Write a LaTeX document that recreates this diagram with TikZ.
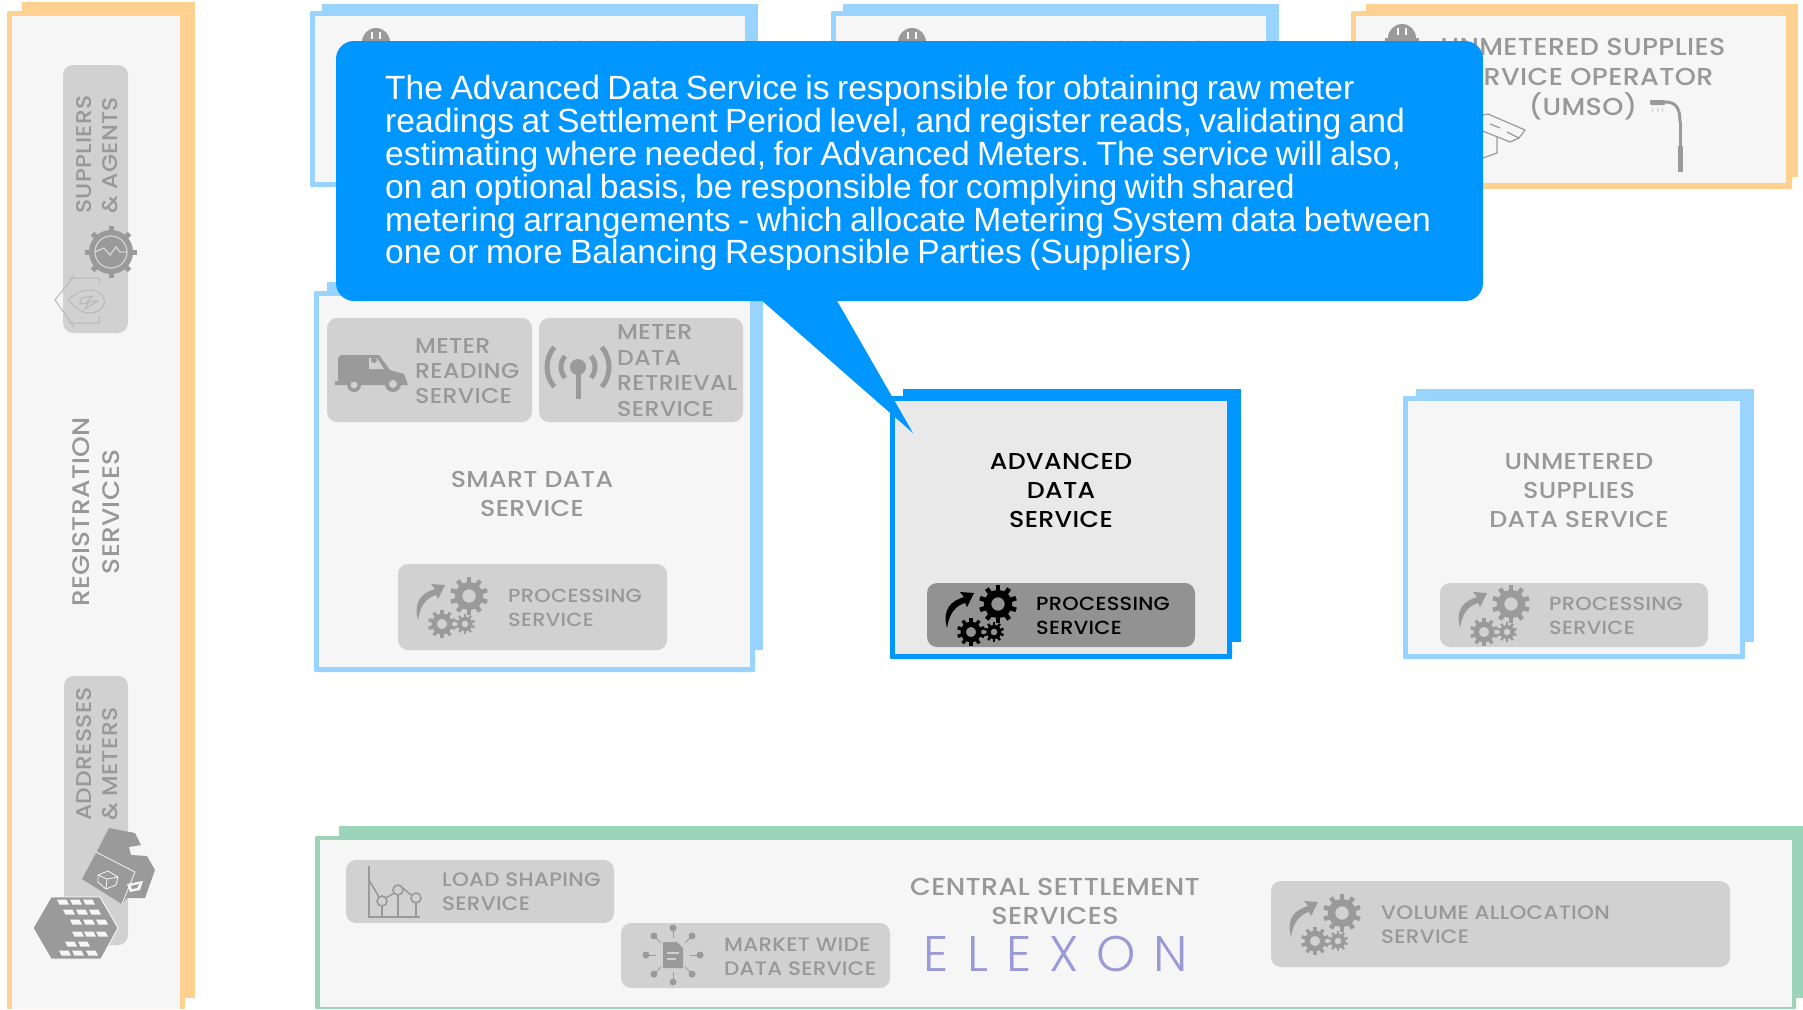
\documentclass[tikz,border=0pt]{standalone}
\usepackage{fontspec}
\setmainfont{Poppins}
\newfontfamily\labelfont{Poppins Medium}[FakeStretch=1.1,LetterSpace=1.5]
\newfontfamily\calloutfont{Liberation Sans}[WordSpace=0.8]
\newfontfamily\logofont{Poppins Light}[LetterSpace=36]

\definecolor{paneloff}{HTML}{F6F6F6}
\definecolor{paneladv}{HTML}{E9E9E9}
\definecolor{boxgray}{HTML}{D1D1D1}
\definecolor{boxdark}{HTML}{929292}
\definecolor{labelgray}{HTML}{989898}
\definecolor{icongray}{HTML}{9A9A9A}
\definecolor{paleblue}{HTML}{99D3FF}
\definecolor{paleorange}{HTML}{FFD191}
\definecolor{palegreen}{HTML}{9BD4B9}
\definecolor{calloutblue}{HTML}{0096FF}
\definecolor{logopurple}{HTML}{9A9AD6}

\tikzset{
  svcbox/.style={fill=boxgray, rounded corners=10pt, inner sep=0pt},
  svclabel/.style={font=\labelfont\fontsize{19.5}{24.3}\selectfont, text=labelgray, inner sep=0pt, align=left, anchor=west},
  proclabel/.style={svclabel, font=\labelfont\fontsize{19}{24.3}\selectfont},
  smalllabel/.style={svclabel, font=\labelfont\fontsize{21.5}{25.4}\selectfont},
  svctitle/.style={font=\labelfont\fontsize{23}{28.6}\selectfont, text=labelgray, inner sep=0pt, align=center},
  widetitle/.style={svctitle, font=\labelfont\fontsize{24.5}{29}\selectfont},
  sidelabel/.style={font=\labelfont\fontsize{21.3}{26}\selectfont, text=labelgray, inner sep=0pt, rotate=90},
}

% x, y, radius, colour
\newcommand{\cog}[4]{
  \draw[#4, line width={0.38*#3}] (#1,#2) circle ({0.55*#3});
  \foreach \ang in {0,36,...,324}
    \draw[#4, line width={0.24*#3}] (#1,#2) ++(\ang+18:{0.68*#3}) -- ++(\ang+18:{0.32*#3});
}
% left edge of the box, middle of the box, colour
\newcommand{\gearset}[3]{
  \cog{#1+71}{#2-11}{19}{#3}
  \cog{#1+44}{#2+17}{14}{#3}
  \cog{#1+67}{#2+17}{10}{#3}
  \fill[#3] (#1+20,#2+13) .. controls (#1+15,#2-6) and (#1+24,#2-14) .. (#1+37,#2-18)
    -- (#1+33,#2-23) -- (#1+47,#2-22) -- (#1+40,#2-8) -- (#1+38,#2-12)
    .. controls (#1+28,#2-9) and (#1+22,#2-1) .. (#1+20,#2+13) -- cycle;
}
\newcommand{\helmet}[2]{
  \fill[icongray] (#1-14,#2) arc (180:0:14 and -14) -- cycle;
  \draw[paneloff, line width=1.2] (#1-4,#2-10) -- (#1-4,#2-3) (#1+4,#2-10) -- (#1+4,#2-3);
  \fill[icongray] (#1-17,#2) rectangle (#1+17,#2+5);
}

\begin{document}
\begin{tikzpicture}[x=1pt,y=-1pt]
\useasboundingbox (0,0) rectangle (1803,1009);

% registration services
\fill[color=paleorange] (22,2) rectangle (195,998);
\fill[color=paleorange, rounded corners=1pt] (7,11) rectangle (185,1009);
\fill[color=paneloff] (12,16) rectangle (180,1009);

\node[svcbox, minimum width=65, minimum height=268] (suppbox) at (95.5,199) {};
\node[sidelabel, align=left, anchor=south west] (supplabel) at (118,214) {SUPPLIERS\\\& AGENTS};
\node[sidelabel, align=center, font=\labelfont\fontsize{24}{30}\selectfont] (reglabel) at (96,512) {REGISTRATION\\SERVICES};
\node[svcbox, minimum width=64, minimum height=269] (addrbox) at (96,810.5) {};
\node[sidelabel, align=left, anchor=south west] (addrlabel) at (118,821) {ADDRESSES\\\& METERS};

% gear with the wave
\fill[icongray] (111,252) circle (22);
\foreach \ang in {0,45,...,315}
  \draw[icongray, line width=5] (111,252) ++(\ang:20) -- ++(\ang:6);
\draw[boxgray, line width=1.2] (111,252) circle (16);
\draw[boxgray, line width=1.4] (95,252) -- (104,248) -- (110,255) -- (116,247) -- (120,252) -- (127,252);

% house with the drop
\draw[color=icongray!70, line width=1] (99,284) -- (99,278) -- (69,278) (75,275) -- (55,300) -- (74,327) (69,323) -- (99,323) -- (99,316);
\draw[color=icongray!70, line width=1] (68,300) .. controls (76,293) and (82,290) .. (88,290) .. controls (110,290) and (110,313) .. (88,313) .. controls (82,313) and (76,308) .. (68,300) -- cycle;
\draw[color=icongray!70, line width=1] (81,298) -- (93,296) -- (87,302) -- (98,301) -- (85,309) -- (88,303) -- (80,304) -- cycle;

% house and block of flats
\fill[icongray] (109,828) -- (135,833) -- (141,845) -- (129,847) -- (131,855) -- (147,856) -- (155,870) -- (145,898) -- (127,898) -- (122,904) -- (82,879) -- (96,853) -- cycle;
\draw[color=paneloff, line width=0.8] (96,852) -- (135,872) -- (122,904);
\fill[color=paneloff] (127,884) -- (143,881) -- (140,890) -- (130,892) -- cycle;
\fill[icongray] (131,886) -- (139,884) -- (137,888) -- (132,889) -- cycle;
\draw[color=paneloff, line width=0.8] (98,875) -- (108,871) -- (118,877) -- (116,885) -- (106,889) -- (98,882) -- cycle (98,875) -- (107,879) -- (118,877) (107,879) -- (106,889);
\fill[icongray, draw=white, line width=0.8] (51,897) -- (100,897) -- (118,928) -- (107,948) -- (101,959) -- (51,959) -- (33,928) -- cycle;
\foreach \wx/\wy in {63/902,76/902,89/902,69/912,82/912,95/912,76/922,89/922,102/922,78/934,90/934,102/934,71/944,84/944,65/953,78/953,92/953}
  \fill[color=paneloff] (\wx-6,\wy-2.5) -- (\wx+3.5,\wy-2.5) -- (\wx+6,\wy+2.5) -- (\wx-3.5,\wy+2.5) -- cycle;

% metering services at the top
\fill[color=paleblue] (322,4) rectangle (758,176);
\fill[color=paleblue, rounded corners=1pt] (310,11) rectangle (749,187);
\fill[color=paneloff] (315,16) rectangle (745,182);
\fill[color=paleblue] (843,4) rectangle (1279,176);
\fill[color=paleblue, rounded corners=1pt] (831,11) rectangle (1270,187);
\fill[color=paneloff] (836,16) rectangle (1266,182);
\helmet{376}{42}
\helmet{912}{42}
\node[widetitle] (meterone) at (557,50) {METERING SERVICE};
\node[widetitle] (metertwo) at (1097,50) {METERING SERVICE};

% unmetered supplies operator
\fill[color=paleorange] (1366,4) rectangle (1798,177);
\fill[color=paleorange, rounded corners=1pt] (1351,11) rectangle (1792,189);
\fill[color=paneloff] (1356,16) rectangle (1786,183);
\helmet{1402}{38}
\node[widetitle, font=\labelfont\fontsize{24.5}{30}\selectfont] (umso) at (1583,79) {UNMETERED SUPPLIES\\SERVICE OPERATOR\\(UMSO)};
\draw[icongray, line width=1.2] (1470,118) -- (1488,114) -- (1525,130) -- (1519,138) -- (1507,132) (1519,138) -- (1510,142) -- (1480,130) (1490,124) -- (1500,128) (1497,137) -- (1497,153) -- (1483,158);
\draw[icongray, line width=3] (1680,122) .. controls (1680,108) and (1676,102) .. (1665,102);
\fill[icongray, rounded corners=1pt] (1650,100) rectangle (1665,105);
\fill[icongray] (1678.5,122) rectangle (1682,146);
\fill[icongray] (1677.5,146) rectangle (1683,172);
\draw[icongray!60, line width=0.6] (1653,108) -- (1652,112) (1658,108) -- (1658,112) (1662,108) -- (1663,112);

% smart data service
\fill[color=paleblue] (327,282) rectangle (763,650);
\fill[color=paleblue, rounded corners=1pt] (314,291) rectangle (755,672);
\fill[color=paneloff] (319,296) rectangle (750,667);
\node[svcbox, minimum width=205, minimum height=104] (readbox) at (429.5,370) {};
\node[svcbox, minimum width=204, minimum height=104] (retrbox) at (641,370) {};
\node[smalllabel] (readlabel) at (415,371) {METER\\READING\\SERVICE};
\node[smalllabel] (retrlabel) at (617,370.5) {METER\\DATA\\RETRIEVAL\\SERVICE};

% van
\fill[icongray] (335,381) -- (338,381) -- (338,358) -- (341,355) -- (379,355) -- (390,370) -- (404,374) -- (408,385) -- (335,385) -- cycle;
\fill[color=boxgray] (369,358) -- (377,358) -- (384,369) -- (369,369) -- cycle;
\fill[icongray] (374,360) circle (3);
\fill[icongray] (354,385) circle (7);
\fill[color=boxgray] (354,385) circle (3.5);
\fill[icongray] (393,384) circle (8);
\fill[color=boxgray] (393,384) circle (4);

% antenna
\fill[icongray] (578,367) circle (8);
\fill[icongray] (575.5,367) rectangle (580.5,399);
\draw[icongray, line width=5] (578,367) ++(140:17) arc (140:220:17) (578,367) ++(-40:17) arc (-40:40:17);
\draw[icongray, line width=5] (578,367) ++(140:31) arc (140:220:31) (578,367) ++(-40:31) arc (-40:40:31);

\node[svctitle] (smartlabel) at (532,494) {SMART DATA\\SERVICE};
\node[svcbox, minimum width=269, minimum height=86] (procsmart) at (532.5,607) {};
\gearset{398}{607}{icongray}
\node[proclabel] (procsmartlabel) at (508,608) {PROCESSING\\SERVICE};

% advanced data service
\fill[color=calloutblue] (903,389) rectangle (1241,642);
\fill[color=calloutblue, rounded corners=1pt] (890,396) rectangle (1232,659);
\fill[color=paneladv] (895,401) rectangle (1227,654);
\node[svctitle, text=black] (advlabel) at (1061,490.5) {ADVANCED\\DATA\\SERVICE};
\node[svcbox, fill=boxdark, minimum width=268, minimum height=64] (procadv) at (1061,615) {};
\gearset{927}{615}{black}
\node[proclabel, text=black] (procadvlabel) at (1036,616) {PROCESSING\\SERVICE};

% unmetered supplies data service
\fill[color=paleblue] (1416,389) rectangle (1754,642);
\fill[color=paleblue, rounded corners=1pt] (1403,396) rectangle (1745,659);
\fill[color=paneloff] (1408,401) rectangle (1740,654);
\node[svctitle] (unmlabel) at (1579,490.5) {UNMETERED\\SUPPLIES\\DATA SERVICE};
\node[svcbox, minimum width=268, minimum height=64] (procunm) at (1574,615) {};
\gearset{1440}{615}{icongray}
\node[proclabel] (procunmlabel) at (1549,616) {PROCESSING\\SERVICE};

% central settlement services
\fill[color=palegreen] (339,826) rectangle (1803,998);
\fill[color=palegreen, rounded corners=1pt] (315,836) rectangle (1796,1009);
\fill[color=paneloff] (320,840) rectangle (1792,1007);

\node[svcbox, minimum width=268, minimum height=63] (loadbox) at (480,891.5) {};
\node[svclabel] (loadlabel) at (442,892) {LOAD SHAPING\\SERVICE};
\draw[icongray, line width=2] (369,866) -- (369,917) -- (420,917) (382,906) -- (382,917) (398,895) -- (398,917) (416,903) -- (416,917);
\draw[icongray, line width=1.6] (369,880) -- (379,897) (386,898) -- (394,893) (403,888) -- (411,895);
\draw[icongray, line width=1.6] (382,901) circle (5) (398,890) circle (5) (416,898) circle (5);

\node[svcbox, minimum width=269, minimum height=65] (marketbox) at (755.5,955.5) {};
\node[svclabel] (marketlabel) at (724,957) {MARKET WIDE\\DATA SERVICE};
\fill[icongray] (663,942) -- (677,942) -- (683,948) -- (683,968) -- (663,968) -- cycle;
\draw[color=boxgray, line width=1.2] (667,953) -- (679,953) (667,959) -- (676,959);
\foreach \ang in {0,45,...,315} {
  \draw[icongray, line width=1] (673,955) ++(\ang:17) -- ++(\ang:8);
  \fill[icongray] (673,955) ++(\ang:27) circle (3.5);
}

\node[widetitle] (centrallabel) at (1055,901.5) {CENTRAL SETTLEMENT\\SERVICES};
\node[inner sep=0pt, text=logopurple, font=\logofont\fontsize{50}{50}\selectfont] (elexon) at (1056,954) {ELEXON};

\node[svcbox, minimum width=459, minimum height=86] (volbox) at (1500.5,924) {};
\gearset{1271}{924}{icongray}
\node[svclabel] (vollabel) at (1381,925) {VOLUME ALLOCATION\\SERVICE};

% callout over everything
\fill[color=calloutblue] (760,299) -- (913,433) -- (836,299) -- cycle;
\node[fill=calloutblue, rounded corners=18pt, minimum width=1147, minimum height=260, inner sep=0pt] (callout) at (909.5,171) {};
\node[inner sep=0pt, text=white, anchor=west, align=left, font=\calloutfont\fontsize{33.6}{32.9}\selectfont\frenchspacing] (callouttext) at (385,173) {The Advanced Data Service is responsible for obtaining raw meter\\readings at Settlement Period level, and register reads, validating and\\estimating where needed, for Advanced Meters. The service will also,\\on an optional basis, be responsible for complying with shared\\metering arrangements - which allocate Metering System data between\\one or more Balancing Responsible Parties (Suppliers)};
\end{tikzpicture}
\end{document}
